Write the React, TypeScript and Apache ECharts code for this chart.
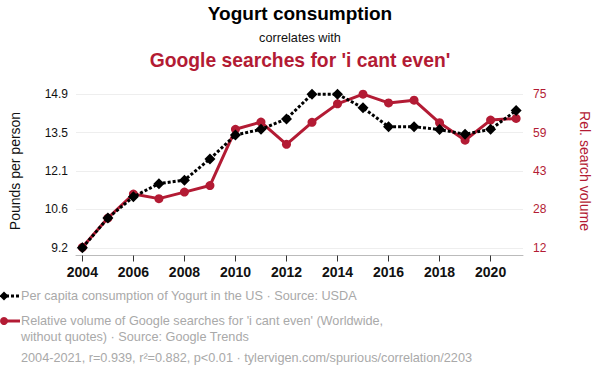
import React, { useEffect, useRef } from "react";
import * as echarts from "echarts";

const years = [2004, 2005, 2006, 2007, 2008, 2009, 2010, 2011, 2012, 2013, 2014, 2015, 2016, 2017, 2018, 2019, 2020, 2021];
const yogurt = [9.2, 10.31, 11.1, 11.59, 11.72, 12.51, 13.4, 13.61, 14.0, 14.92, 14.92, 14.41, 13.71, 13.71, 13.6, 13.43, 13.61, 14.31];
const searches = [11.9, 24.0, 33.9, 32.0, 34.7, 37.4, 60.6, 63.6, 54.4, 63.5, 71.1, 75.1, 71.5, 72.6, 63.3, 56.1, 64.4, 65.1];
const yearTicks = [2004, 2006, 2008, 2010, 2012, 2014, 2016, 2018, 2020];
const leftTicks = [9.2, 10.63, 12.06, 13.49, 14.92];
const rightTicks = [11.7, 27.55, 43.4, 59.25, 75.1];

const RED = "#B31B34";
const GRAY = "#A9A9A9";
const FONT = "Liberation Sans, Arial, sans-serif";

export default function App() {
  const ref = useRef<HTMLDivElement>(null);
  useEffect(() => {
    if (!ref.current) return;
    const chart = echarts.init(ref.current, undefined, { renderer: "svg" });
    chart.setOption({
      animation: false,
      textStyle: { fontFamily: FONT },
      grid: { left: 70, right: 71, top: 86.5, bottom: 120.5, containLabel: false },
      xAxis: {
        type: "value",
        min: 2003.75,
        max: 2021.27,
        axisLine: { show: true, lineStyle: { color: "#bbb" } },
        axisTick: { show: true, customValues: yearTicks, length: 6, lineStyle: { color: "#333" } },
        axisLabel: { customValues: yearTicks, color: "#111", fontSize: 14, fontWeight: "bold", margin: 9, fontFamily: FONT, formatter: (v: number) => String(v) },
        splitLine: { show: false },
      },
      yAxis: [
        {
          type: "value",
          min: 8.915,
          max: 15.205,
          name: "Pounds per person",
          nameLocation: "middle",
          nameGap: 54,
          nameTextStyle: { color: "#111", fontSize: 14, fontFamily: FONT },
          axisLine: { show: false },
          axisTick: { show: false, customValues: leftTicks },
          axisLabel: { customValues: leftTicks, color: "#111", fontSize: 12, margin: 8, formatter: (v: number) => v.toFixed(1), fontFamily: FONT },
          splitLine: { show: true, lineStyle: { color: "#eeeeee" } },
        },
        {
          type: "value",
          min: 8.54,
          max: 78.26,
          position: "right",
          name: "Rel. search volume",
          nameLocation: "middle",
          nameRotate: -90,
          nameGap: 55,
          nameTextStyle: { color: RED, fontSize: 14, fontFamily: FONT },
          axisLine: { show: false },
          axisTick: { show: false, customValues: rightTicks },
          axisLabel: { customValues: rightTicks, color: RED, fontSize: 12, margin: 10, formatter: (v: number) => String(Math.round(v)), fontFamily: FONT },
          splitLine: { show: false },
        },
      ],
      series: [
        {
          name: "Google searches",
          type: "line",
          yAxisIndex: 1,
          data: years.map((y, i) => [y, searches[i]]),
          symbol: "circle",
          symbolSize: 9,
          itemStyle: { color: RED },
          lineStyle: { color: RED, width: 3 },
          z: 2,
        },
        {
          name: "Yogurt",
          type: "line",
          yAxisIndex: 0,
          data: years.map((y, i) => [y, yogurt[i]]),
          symbol: "diamond",
          symbolSize: 11,
          itemStyle: { color: "#000" },
          lineStyle: { color: "#000", width: 3, type: [3, 2] },
          z: 3,
        },
      ],
      graphic: [
        { type: "text", x: 300, y: 13, style: { text: "Yogurt consumption", fill: "#000", font: `bold 19px ${FONT}`, textAlign: "center", textVerticalAlign: "middle" } },
        { type: "text", x: 300, y: 37.5, style: { text: "correlates with", fill: "#111", font: `12.7px ${FONT}`, textAlign: "center", textVerticalAlign: "middle" } },
        { type: "text", x: 300, y: 60.5, style: { text: "Google searches for 'i cant even'", fill: RED, font: `bold 19.3px ${FONT}`, textAlign: "center", textVerticalAlign: "middle" } },
        { type: "line", shape: { x1: 6, y1: 296, x2: 20, y2: 296 }, style: { stroke: "#000", lineWidth: 3, lineDash: [3, 2] } },
        { type: "polygon", shape: { points: [[4, 291.5], [8.5, 296], [4, 300.5], [-0.5, 296]] }, style: { fill: "#000" } },
        { type: "text", x: 21, y: 296, style: { text: "Per capita consumption of Yogurt in the US · Source: USDA", fill: GRAY, font: `12.7px ${FONT}`, textVerticalAlign: "middle" } },
        { type: "line", shape: { x1: 4, y1: 321, x2: 20, y2: 321 }, style: { stroke: RED, lineWidth: 3 } },
        { type: "circle", shape: { cx: 4, cy: 321, r: 4 }, style: { fill: RED } },
        { type: "text", x: 21, y: 321, style: { text: "Relative volume of Google searches for 'i cant even' (Worldwide,", fill: GRAY, font: `12.7px ${FONT}`, textVerticalAlign: "middle" } },
        { type: "text", x: 21, y: 336.5, style: { text: "without quotes) · Source: Google Trends", fill: GRAY, font: `12.7px ${FONT}`, textVerticalAlign: "middle" } },
        { type: "text", x: 21, y: 358, style: { text: "2004-2021, r=0.939, r²=0.882, p<0.01 · tylervigen.com/spurious/correlation/2203", fill: GRAY, font: `12.7px ${FONT}`, textVerticalAlign: "middle" } },
      ],
    });
    return () => chart.dispose();
  }, []);
  return <div ref={ref} style={{ width: 600, height: 376, position: "absolute", left: 0, top: 0 }} />;
}
